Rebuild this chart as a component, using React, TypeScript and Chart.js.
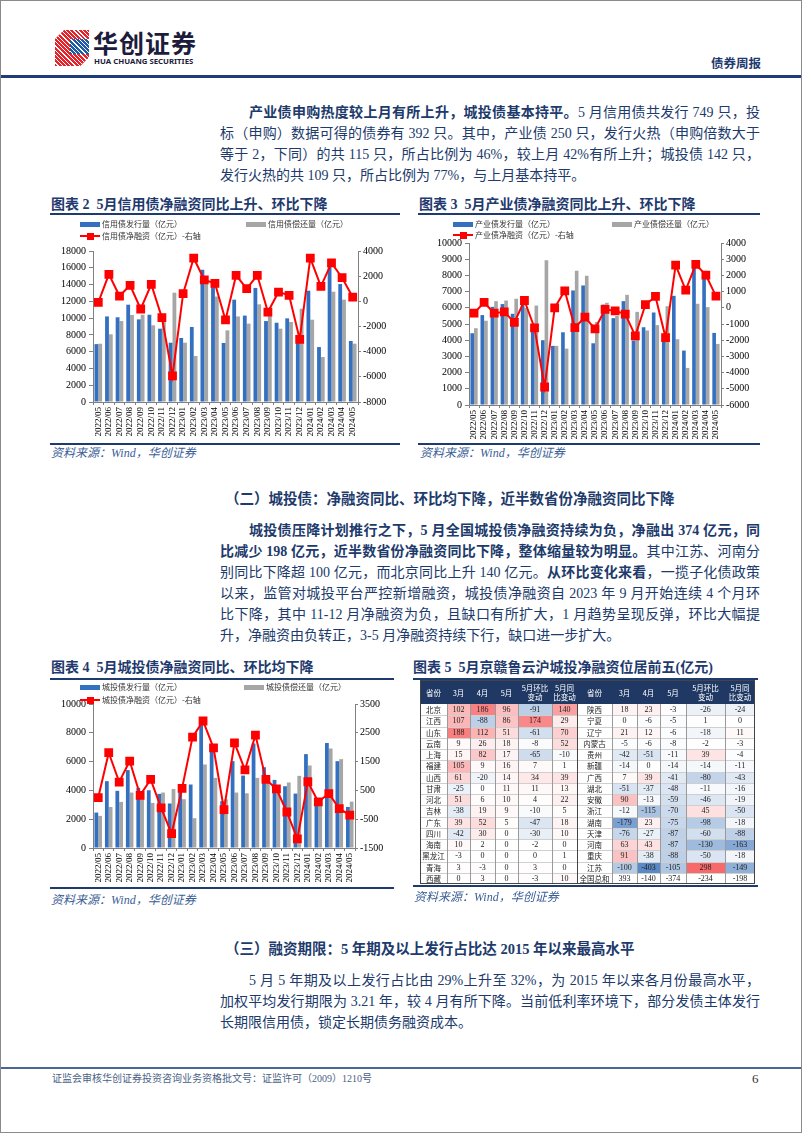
import React, { useEffect, useRef } from 'react';
import { Chart, registerables } from 'chart.js';

Chart.register(...registerables);

// ---------------- DATA ----------------
const months = [
  '2022/05', '2022/06', '2022/07', '2022/08', '2022/09', '2022/10', '2022/11', '2022/12',
  '2023/01', '2023/02', '2023/03', '2023/04', '2023/05', '2023/06', '2023/07', '2023/08',
  '2023/09', '2023/10', '2023/11', '2023/12', '2024/01', '2024/02', '2024/03', '2024/04', '2024/05',
];

// 图表2 信用债
const creditIssue = [6900, 10200, 10100, 11600, 9850, 10400, 8740, 7070, 7630, 8940, 15770, 14000, 7030, 12200, 10300, 13600, 9650, 9450, 9970, 8000, 13270, 6550, 16170, 14060, 7270];
const creditRepay = [6950, 8070, 9650, 10370, 10400, 9140, 10040, 13030, 7070, 5480, 14070, 12570, 8540, 10200, 9340, 11640, 10500, 8740, 9540, 11120, 9810, 5360, 13150, 12200, 6950];
const creditNet = [-80, 2150, 420, 1270, -610, 1350, -1300, -5930, 610, 3440, 1700, 1430, -1480, 2070, 1010, 2070, -850, 740, 480, -3020, 3440, 1190, 3050, 1880, 340];

// 图表3 产业债
const indIssue = [4430, 5550, 6060, 6230, 5630, 6430, 4950, 4000, 3650, 4490, 7070, 7380, 3810, 6200, 5360, 6410, 3980, 4800, 5710, 4250, 6740, 3360, 8900, 8040, 4450];
const indRepay = [4740, 5200, 6410, 6450, 6560, 6000, 6140, 8930, 3650, 3480, 8290, 7980, 5130, 6310, 5500, 6800, 5750, 4600, 4930, 6100, 4060, 2290, 6250, 6040, 3770];
const indNet = [-330, 330, -330, -250, -900, 450, -1240, -4890, 0, 1050, -1220, -580, -1300, -100, -190, -390, -1730, 190, 700, -1840, 2640, 1090, 2680, 2020, 720];

// 图表4 城投债
const ctIssue = [2460, 4640, 3970, 5410, 4180, 4010, 3760, 3090, 3940, 4410, 8650, 6800, 3250, 6030, 5030, 7260, 5610, 4730, 4290, 3780, 6520, 3130, 7290, 6030, 2850];
const ctRepay = [2230, 2850, 3200, 3850, 3850, 3130, 3850, 4100, 3390, 2070, 5800, 4870, 3380, 3850, 3800, 4870, 4740, 4170, 4550, 5010, 5730, 3040, 6910, 6170, 3220];
const ctNet = [250, 1810, 790, 1520, 330, 880, -110, -1000, 570, 2350, 2910, 1980, -170, 2150, 1210, 2420, 880, 550, -250, -1180, 800, 100, 390, -130, -360];

// 图表5 省份城投净融资（亿元）
const provinces = [
  '北京', '江西', '山东', '云南', '上海', '福建', '山西', '甘肃', '河北', '吉林', '广东', '四川', '海南', '黑龙江', '青海', '西藏',
  '陕西', '宁夏', '辽宁', '内蒙古', '贵州', '新疆', '广西', '湖北', '安徽', '浙江', '湖南', '天津', '河南', '重庆', '江苏', '全国总和',
];
const netMar = [102, 107, 188, 9, 15, 105, 61, -25, 51, -38, 39, -42, 10, -3, 3, 0, 18, 0, 21, -5, -42, -14, 7, -51, 90, -12, -179, -76, 63, 91, -100, 393];
const netApr = [186, -88, 112, 26, 82, 9, -20, 0, 6, 19, 52, 30, 2, 0, -3, 3, 23, -6, 12, -6, -51, 0, 39, -37, -13, -115, 23, -27, 43, -38, -403, -140];
const netMay = [96, 86, 51, 18, 17, 16, 14, 11, 10, 9, 5, 0, 0, 0, 0, 0, -3, -5, -6, -8, -11, -14, -41, -48, -59, -70, -75, -87, -87, -88, -105, -374];
const netMoM = [-91, 174, -61, -8, -65, 7, 34, 11, 4, -10, -47, -30, -2, 0, 3, -3, -26, 1, -18, -2, 39, -14, -80, -11, -46, 45, -98, -60, -130, -50, 298, -234];
const netYoY = [140, 29, 70, 52, -10, 1, 39, 13, 22, 5, 18, 10, 0, 1, 0, 10, -24, 0, 11, -3, -4, -11, -43, -16, -19, -50, -18, -88, -163, -18, -149, -198];
const tableHeader = ['省份', '3月', '4月', '5月', '5月环比\n变动', '5月同\n比变动'];

// ---------------- STYLE ----------------
const FONT = '"Liberation Serif", "Noto Sans CJK SC", serif';
const SANS = '"Noto Sans CJK SC", "Noto Sans", sans-serif';
const BLUE = '#3470c0';
const GREY = '#a6a6a6';
const RED = '#ff0000';
const NAVY = '#1f3a6e';
const TEXT = '#203a6b';
const AXIS = '#808080';

type ChartProps = {
  left: number; top: number; width: number; height: number;
  issue: number[]; repay: number[]; net: number[];
  yMax: number; yStep: number; y1Min: number; y1Max: number; y1Step: number;
  yW: number; y1W: number; padTop: number; xH: number;
};

function BondChart(p: ChartProps) {
  const ref = useRef<HTMLCanvasElement | null>(null);
  useEffect(() => {
    if (!ref.current) return;
    const tickFont = { family: FONT, size: 10 };
    const chart = new Chart(ref.current, {
      type: 'bar',
      data: {
        labels: months,
        datasets: [
          {
            type: 'line', label: 'net', data: p.net, yAxisID: 'y1',
            borderColor: RED, backgroundColor: RED, borderWidth: 2,
            pointStyle: 'rect', pointRadius: 4.8, pointBackgroundColor: RED, pointBorderColor: RED,
            order: 0, tension: 0,
          } as any,
          {
            type: 'bar', label: 'issue', data: p.issue, yAxisID: 'y', backgroundColor: BLUE,
            categoryPercentage: 0.72, barPercentage: 1, order: 1,
          } as any,
          {
            type: 'bar', label: 'repay', data: p.repay, yAxisID: 'y', backgroundColor: GREY,
            categoryPercentage: 0.72, barPercentage: 1, order: 1,
          } as any,
        ],
      },
      options: {
        responsive: false,
        animation: false,
        devicePixelRatio: 1,
        layout: { padding: { top: p.padTop, left: 0, right: 0, bottom: 0 } },
        plugins: { legend: { display: false }, tooltip: { enabled: false } },
        scales: {
          x: {
            offset: true,
            grid: { offset: true, drawOnChartArea: false, drawTicks: true, tickLength: 3, color: AXIS },
            border: { display: true, color: AXIS },
            ticks: {
              autoSkip: false, maxRotation: 90, minRotation: 90, padding: 2,
              font: { family: FONT, size: 9 }, color: '#000',
            },
            afterFit: (s: any) => { s.height = p.xH; },
          },
          y: {
            position: 'left', min: 0, max: p.yMax,
            grid: { drawOnChartArea: false, drawTicks: true, tickLength: 4, color: AXIS },
            border: { display: true, color: AXIS },
            ticks: { stepSize: p.yStep, padding: 3, font: tickFont, color: '#000', callback: (v: any) => String(v) },
            afterFit: (s: any) => { s.width = p.yW; },
          },
          y1: {
            position: 'right', min: p.y1Min, max: p.y1Max,
            grid: { drawOnChartArea: false, drawTicks: true, tickLength: 3, color: AXIS },
            border: { display: true, color: AXIS },
            ticks: { stepSize: p.y1Step, padding: 2, font: tickFont, color: '#000', callback: (v: any) => String(v) },
            afterFit: (s: any) => { s.width = p.y1W; },
          },
        },
      } as any,
    });
    return () => chart.destroy();
  }, []);
  return (
    <canvas
      ref={ref}
      width={p.width}
      height={p.height}
      style={{ position: 'absolute', left: p.left, top: p.top, width: p.width, height: p.height }}
    />
  );
}

function Legend({ x, x2, y1, y2, names }: { x: number; x2: number; y1: number; y2: number; names: string[] }) {
  const txt: React.CSSProperties = { position: 'absolute', fontFamily: SANS, fontSize: 8, lineHeight: '10px', color: '#333', whiteSpace: 'nowrap' };
  return (
    <>
      <div style={{ position: 'absolute', left: x, top: y1 - 2.5, width: 20, height: 5, background: BLUE }} />
      <div style={{ ...txt, left: x + 22, top: y1 - 5 }}>{names[0]}</div>
      <div style={{ position: 'absolute', left: x2, top: y1 - 2.5, width: 20, height: 5, background: GREY }} />
      <div style={{ ...txt, left: x2 + 22, top: y1 - 5 }}>{names[1]}</div>
      <div style={{ position: 'absolute', left: x, top: y2 - 1, width: 20, height: 2, background: RED }} />
      <div style={{ position: 'absolute', left: x + 7, top: y2 - 3.5, width: 7, height: 7, background: RED }} />
      <div style={{ ...txt, left: x + 22, top: y2 - 5 }}>{names[2]}</div>
    </>
  );
}

type Seg = [string, boolean];
function TextLine({ top, segs, indent = 0, last = false, left = 220, width = 540 }: { top: number; segs: Seg[]; indent?: number; last?: boolean; left?: number; width?: number }) {
  return (
    <div
      style={{
        position: 'absolute', left: left + indent, top, width: width - indent,
        fontFamily: FONT, fontSize: 14, lineHeight: '21px', color: TEXT,
        textAlign: last ? 'left' : 'justify', textAlignLast: last ? 'left' : 'justify',
      } as React.CSSProperties}
    >
      {segs.map((s, i) => (s[1] ? <b key={i}>{s[0]}</b> : <span key={i}>{s[0]}</span>))}
    </div>
  );
}

function Title({ left, top, text }: { left: number; top: number; text: string }) {
  return (
    <div style={{ position: 'absolute', left, top, fontFamily: FONT, fontSize: 14, fontWeight: 'bold', lineHeight: '16px', color: NAVY, whiteSpace: 'pre' }}>
      {text}
    </div>
  );
}

function Rule({ left, top, width, h = 1.5, color = NAVY }: { left: number; top: number; width: number; h?: number; color?: string }) {
  return <div style={{ position: 'absolute', left, top, width, height: h, background: color }} />;
}

function Source({ left, top }: { left: number; top: number }) {
  return (
    <div style={{ position: 'absolute', left, top, fontFamily: FONT, fontSize: 12, fontStyle: 'italic', lineHeight: '14px', color: '#3a5e96', whiteSpace: 'nowrap' }}>
      资料来源：Wind，华创证券
    </div>
  );
}

function mix(a: number[], t: number) {
  const c = a.map((v) => Math.round(255 + (v - 255) * t));
  return `rgb(${c[0]},${c[1]},${c[2]})`;
}
function cellColor(v: number, isTotal: boolean) {
  if (isTotal || v === 0) return '#ffffff';
  const t = Math.min(1, Math.abs(v) / 220);
  return v > 0 ? mix([248, 105, 107], t) : mix([90, 138, 198], t);
}

function ProvTable() {
  const X0 = 420, Y0 = 680, HEAD = 24, ROW = 11.25;
  const widths = [27, 23, 25, 23, 34, 25, 35, 25, 23, 26, 39, 30];
  const xs: number[] = [X0];
  widths.forEach((w) => xs.push(xs[xs.length - 1] + w));
  const totalW = xs[xs.length - 1] - X0;
  const totalH = HEAD + ROW * 16;
  const cols = [netMar, netApr, netMay, netMoM, netYoY];
  const els: JSX.Element[] = [];
  const base: React.CSSProperties = {
    position: 'absolute', display: 'flex', alignItems: 'center', justifyContent: 'center',
    textAlign: 'center', overflow: 'hidden', whiteSpace: 'nowrap',
  };
  // header
  els.push(<div key="hbg" style={{ position: 'absolute', left: X0, top: Y0, width: totalW, height: HEAD, background: '#1f3864' }} />);
  for (let c = 0; c < 12; c++) {
    els.push(
      <div key={`h${c}`} style={{ ...base, left: xs[c], top: Y0, width: widths[c], height: HEAD, color: '#fff', fontFamily: SANS, fontSize: 7.5, lineHeight: '9px', whiteSpace: 'pre-line' }}>
        {tableHeader[c % 6]}
      </div>,
    );
  }
  // body
  for (let i = 0; i < 16; i++) {
    const top = Y0 + HEAD + i * ROW;
    [i, i + 16].forEach((k, half) => {
      const isTotal = provinces[k] === '全国总和';
      const c0 = half * 6;
      els.push(
        <div key={`p${k}`} style={{ ...base, left: xs[c0], top, width: widths[c0], height: ROW, fontFamily: SANS, fontSize: 7.5, lineHeight: '9px', color: '#222', background: '#fff' }}>
          {provinces[k]}
        </div>,
      );
      cols.forEach((col, j) => {
        const c = c0 + 1 + j;
        els.push(
          <div key={`v${k}-${j}`} style={{ ...base, left: xs[c], top, width: widths[c], height: ROW, fontFamily: FONT, fontSize: 8, lineHeight: '9px', color: '#222', background: cellColor(col[k], isTotal) }}>
            {col[k]}
          </div>,
        );
      });
    });
  }
  // grid lines
  for (let i = 1; i < 16; i++) {
    els.push(<div key={`hl${i}`} style={{ position: 'absolute', left: X0, top: Y0 + HEAD + i * ROW, width: totalW, height: 1, background: '#cfcfcf' }} />);
  }
  for (let c = 1; c < 12; c++) {
    els.push(<div key={`vl${c}`} style={{ position: 'absolute', left: xs[c], top: Y0 + HEAD, width: 1, height: ROW * 16, background: c === 6 ? '#444' : '#9a9a9a' }} />);
  }
  els.push(<div key="outer" style={{ position: 'absolute', left: X0, top: Y0, width: totalW, height: totalH, border: '1px solid #444', boxSizing: 'border-box' }} />);
  return <>{els}</>;
}

function Logo() {
  return (
    <>
      <div style={{ position: 'absolute', left: 55, top: 30, width: 34, height: 36, clipPath: 'polygon(9px 0, 34px 0, 34px 27px, 25px 36px, 0 36px, 0 9px)', background: 'repeating-linear-gradient(45deg, #e3242b 0 2px, #ffffff 2px 3px)' }}>
        <div style={{ position: 'absolute', left: 15, top: 9, width: 19, height: 20, background: 'repeating-linear-gradient(45deg, #1f5aa6 0 2px, #ffffff 2px 3px)' }} />
        <div style={{ position: 'absolute', left: 0, top: 24, width: 34, height: 12, background: 'repeating-linear-gradient(45deg, #e3242b 0 2px, #ffffff 2px 3px)' }} />
      </div>
      <div style={{ position: 'absolute', left: 93, top: 29, fontFamily: SANS, fontSize: 25, fontWeight: 'bold', lineHeight: '26px', letterSpacing: 1, color: '#1c1c3c', whiteSpace: 'nowrap' }}>华创证券</div>
      <div style={{ position: 'absolute', left: 94, top: 56, fontFamily: '"Noto Sans", sans-serif', fontSize: 7.8, fontWeight: 'bold', lineHeight: '10px', color: '#1c1c3c', whiteSpace: 'nowrap' }}>HUA CHUANG SECURITIES</div>
      <div style={{ position: 'absolute', left: 711, top: 56, fontFamily: SANS, fontSize: 12.5, fontWeight: 'bold', lineHeight: '14px', color: NAVY, whiteSpace: 'nowrap' }}>债券周报</div>
      <Rule left={0} top={75} width={802} h={3} color="#1f3c7a" />
    </>
  );
}

export default function App() {
  return (
    <div style={{ position: 'relative', width: 802, height: 1133, background: '#fff', overflow: 'hidden' }}>
      <style>{'html,body{margin:0;padding:0;overflow:hidden;background:#fff}'}</style>
      <Logo />

      {/* paragraph 1 */}
      <TextLine top={102} indent={29} segs={[['产业债申购热度较上月有所上升，城投债基本持平。', true], ['5 月信用债共发行 749 只，投', false]]} />
      <TextLine top={123} segs={[['标（申购）数据可得的债券有 392 只。其中，产业债 250 只，发行火热（申购倍数大于', false]]} />
      <TextLine top={144} segs={[['等于 2，下同）的共 115 只，所占比例为 46%，较上月 42%有所上升；城投债 142 只，', false]]} />
      <TextLine top={165} last segs={[['发行火热的共 109 只，所占比例为 77%，与上月基本持平。', false]]} />

      {/* chart 2 */}
      <Title left={51} top={197} text="图表 2  5月信用债净融资同比上升、环比下降" />
      <Rule left={50} top={213} width={350} />
      <BondChart left={50} top={214} width={350} height={229} issue={creditIssue} repay={creditRepay} net={creditNet}
        yMax={18000} yStep={2000} y1Min={-8000} y1Max={4000} y1Step={2000} yW={43} y1W={42} padTop={37} xH={41} />
      <Legend x={80} x2={246} y1={224} y2={236} names={['信用债发行量（亿元）', '信用债偿还量（亿元）', '信用债净融资（亿元）-右轴']} />
      <Rule left={50} top={443} width={350} />
      <Source left={51} top={446} />

      {/* chart 3 */}
      <Title left={419} top={197} text="图表 3  5月产业债净融资同比上升、环比下降" />
      <Rule left={418} top={213} width={342} />
      <BondChart left={418} top={214} width={342} height={229} issue={indIssue} repay={indRepay} net={indNet}
        yMax={10000} yStep={1000} y1Min={-6000} y1Max={4000} y1Step={1000} yW={51} y1W={39} padTop={29} xH={38} />
      <Legend x={453} x2={612} y1={224} y2={235} names={['产业债发行量（亿元）', '产业债偿还量（亿元）', '产业债净融资（亿元）-右轴']} />
      <Rule left={418} top={443} width={342} />
      <Source left={420} top={446} />

      {/* section 2 */}
      <div style={{ position: 'absolute', left: 225, top: 490, fontFamily: FONT, fontSize: 14.5, fontWeight: 'bold', lineHeight: '18px', color: TEXT, whiteSpace: 'nowrap' }}>
        （二）城投债：净融资同比、环比均下降，近半数省份净融资同比下降
      </div>
      <TextLine top={520} indent={29} segs={[['城投债压降计划推行之下，5 月全国城投债净融资持续为负，净融出 374 亿元，同', true]]} />
      <TextLine top={541} segs={[['比减少 198 亿元，近半数省份净融资同比下降，整体缩量较为明显。', true], ['其中江苏、河南分', false]]} />
      <TextLine top={562} segs={[['别同比下降超 100 亿元，而北京同比上升 140 亿元。', false], ['从环比变化来看', true], ['，一揽子化债政策', false]]} />
      <TextLine top={583} segs={[['以来，监管对城投平台严控新增融资，城投债净融资自 2023 年 9 月开始连续 4 个月环', false]]} />
      <TextLine top={604} segs={[['比下降，其中 11-12 月净融资为负，且缺口有所扩大，1 月趋势呈现反弹，环比大幅提', false]]} />
      <TextLine top={625} last segs={[['升，净融资由负转正，3-5 月净融资持续下行，缺口进一步扩大。', false]]} />

      {/* chart 4 */}
      <Title left={51} top={660} text="图表 4  5月城投债净融资同比、环比均下降" />
      <Rule left={50} top={678} width={344} />
      <BondChart left={50} top={679} width={345} height={208} issue={ctIssue} repay={ctRepay} net={ctNet}
        yMax={10000} yStep={1000} y1Min={-1500} y1Max={3500} y1Step={500} yW={43} y1W={40} padTop={25} xH={39} />
      <Legend x={80} x2={244} y1={687} y2={700} names={['城投债发行量（亿元）', '城投债偿还量（亿元）', '城投债净融资（亿元）-右轴']} />
      <Rule left={50} top={887} width={344} />
      <Source left={51} top={893} />

      {/* table 5 */}
      <Title left={413} top={660} text="图表 5  5月京赣鲁云沪城投净融资位居前五(亿元)" />
      <Rule left={413} top={678} width={345} />
      <ProvTable />
      <Rule left={413} top={885} width={345} />
      <Source left={414} top={890} />

      {/* section 3 */}
      <div style={{ position: 'absolute', left: 225, top: 940, fontFamily: FONT, fontSize: 14.5, fontWeight: 'bold', lineHeight: '18px', color: TEXT, whiteSpace: 'nowrap' }}>
        （三）融资期限：5 年期及以上发行占比达 2015 年以来最高水平
      </div>
      <TextLine top={970} indent={29} segs={[['5 月 5 年期及以上发行占比由 29%上升至 32%，为 2015 年以来各月份最高水平，', false]]} />
      <TextLine top={991} segs={[['加权平均发行期限为 3.21 年，较 4 月有所下降。当前低利率环境下，部分发债主体发行', false]]} />
      <TextLine top={1012} last segs={[['长期限信用债，锁定长期债务融资成本。', false]]} />

      {/* footer */}
      <Rule left={0} top={1067} width={802} h={2} color="#4a6794" />
      <div style={{ position: 'absolute', left: 52, top: 1073, fontFamily: FONT, fontSize: 10, lineHeight: '12px', color: '#4a5f86', whiteSpace: 'nowrap' }}>
        证监会审核华创证券投资咨询业务资格批文号：证监许可（2009）1210号
      </div>
      <div style={{ position: 'absolute', left: 752, top: 1072, fontFamily: FONT, fontSize: 13, lineHeight: '14px', color: '#333' }}>6</div>

      <div style={{ position: 'absolute', left: 0, top: 0, width: 802, height: 1133, border: '1px solid #8a8a8a', boxSizing: 'border-box', pointerEvents: 'none' }} />
    </div>
  );
}
